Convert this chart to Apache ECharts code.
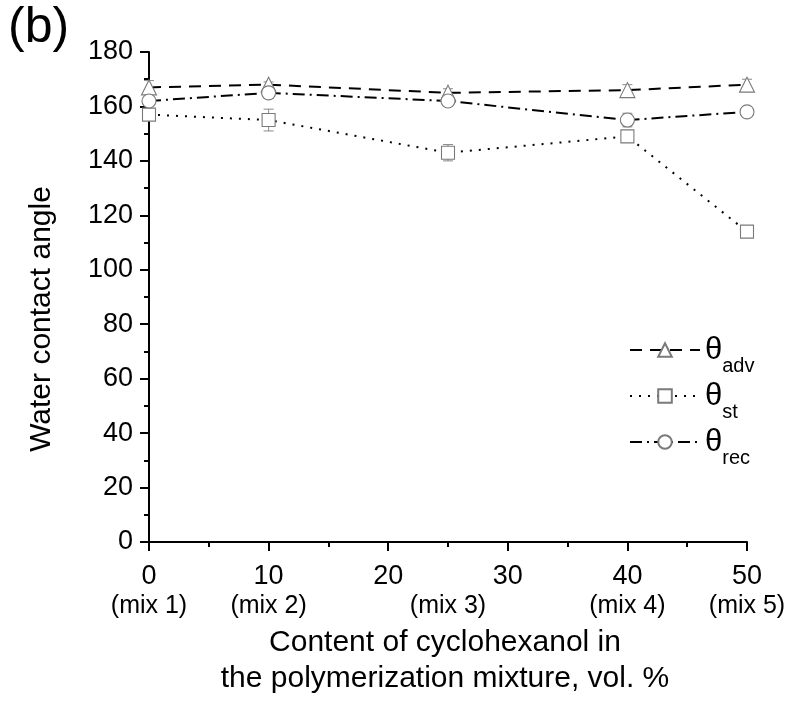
<!DOCTYPE html>
<html><head><meta charset="utf-8">
<script src="https://cdn.jsdelivr.net/npm/echarts@6/dist/echarts.min.js"></script>
<style>html,body{margin:0;padding:0;background:#fff}#c{width:800px;height:704px}</style>
</head><body><div id="c"></div>
<script>
const xValues = [0, 10, 25, 40, 50];
const mixLabels = ['(mix 1)', '(mix 2)', '(mix 3)', '(mix 4)', '(mix 5)'];
const advValues = [167, 168, 165, 166, 168];
const advErr = [2.5, 1, 1.5, 2, 2];
const stValues = [157, 155, 143, 149, 114];
const stErr = [2, 4, 3, 2, 1.5];
const recValues = [162, 165, 162, 155, 158];
const recErr = [1.5, 2, 2, 2.5, 1.5];
const yTicks = [0, 20, 40, 60, 80, 100, 120, 140, 160, 180];

const FONT = "'Liberation Sans', Arial, sans-serif";
const pts = (vals) => xValues.map((x, i) => [x, vals[i]]);
const errPts = (vals, errs) => xValues.map((x, i) => [x, vals[i], errs[i]]);

function errorSeries(vals, errs) {
  return {
    type: 'custom', xAxisIndex: 0, yAxisIndex: 0, z: 1, silent: true,
    data: errPts(vals, errs),
    renderItem: function (params, api) {
      const x = api.value(0), y = api.value(1), e = api.value(2);
      const hi = api.coord([x, y + e]);
      const lo = api.coord([x, y - e]);
      const w = 5;
      const st = { stroke: '#8a8a8a', lineWidth: 1 };
      return {
        type: 'group', children: [
          { type: 'line', shape: { x1: hi[0], y1: hi[1], x2: lo[0], y2: lo[1] }, style: st },
          { type: 'line', shape: { x1: hi[0] - w, y1: hi[1], x2: hi[0] + w, y2: hi[1] }, style: st },
          { type: 'line', shape: { x1: lo[0] - w, y1: lo[1], x2: lo[0] + w, y2: lo[1] }, style: st }
        ]
      };
    }
  };
}

function lineSeries(name, vals, symbol, size, dash) {
  return {
    name: name, type: 'line', xAxisIndex: 0, yAxisIndex: 0, z: 3,
    data: pts(vals), symbol: symbol, symbolSize: size, showAllSymbol: true,
    itemStyle: { color: '#ffffff', borderColor: '#7a7a7a', borderWidth: 1.1 },
    lineStyle: { color: '#000', width: 2, type: dash },
    emphasis: { disabled: true }
  };
}

const chart = echarts.init(document.getElementById('c'), null, { renderer: 'canvas' });
chart.setOption({
  animation: false,
  backgroundColor: '#fff',
  textStyle: { fontFamily: FONT, color: '#000' },
  grid: { left: 149, right: 53, top: 52, bottom: 162, containLabel: false },
  title: [
    { text: '(b)', left: 3, top: -2, textStyle: { fontFamily: FONT, fontSize: 50, fontWeight: 'normal', color: '#000' } },
    { text: 'Content of cyclohexanol in\nthe polymerization mixture, vol. %', left: 440, top: 620, textAlign: 'center',
      textStyle: { fontFamily: FONT, fontSize: 30, fontWeight: 'normal', color: '#000', lineHeight: 36, align: 'center' } }
  ],
  legend: {
    orient: 'vertical', left: 624, top: 330, itemWidth: 70, itemHeight: 17, itemGap: 5,
    data: ['adv', 'st', 'rec'],
    selectedMode: false,
    formatter: function (n) { return '{t|θ}{s|' + n + '}'; },
    textStyle: {
      fontFamily: FONT, color: '#000', padding: [0, 0, 0, 0],
      rich: {
        t: { fontFamily: FONT, fontSize: 31, verticalAlign: 'bottom', lineHeight: 32 },
        s: { fontFamily: FONT, fontSize: 20, verticalAlign: 'bottom', padding: [0, 0, -10, 0] }
      }
    }
  },
  xAxis: [
    {
      type: 'value', min: 0, max: 50, interval: 10, position: 'bottom',
      axisLine: { show: true, onZero: false, lineStyle: { color: '#000', width: 2 } },
      axisTick: { show: true, inside: false, length: 9, lineStyle: { color: '#000', width: 2 } },
      minorTick: { show: true, splitNumber: 2, length: 5, lineStyle: { color: '#000', width: 2 } },
      splitLine: { show: false },
      axisLabel: { fontFamily: FONT, fontSize: 27, color: '#000', margin: 21 }
    },
    {
      type: 'value', min: 0, max: 50, position: 'bottom', offset: 40,
      axisLine: { show: false }, axisTick: { show: false }, splitLine: { show: false },
      axisLabel: {
        fontFamily: FONT, fontSize: 25, color: '#000', margin: 12,
        customValues: xValues,
        formatter: function (v) { const i = xValues.indexOf(v); return i >= 0 ? mixLabels[i] : ''; }
      }
    }
  ],
  yAxis: {
    type: 'value', min: 0, max: 180, interval: 20,
    name: 'Water contact angle', nameLocation: 'middle', nameGap: 92,
    nameTextStyle: { fontFamily: FONT, fontSize: 30, color: '#000', padding: [0, 0, 0, -44] },
    axisLine: { show: true, lineStyle: { color: '#000', width: 2 } },
    axisTick: { show: true, inside: false, length: 9, lineStyle: { color: '#000', width: 2 } },
    minorTick: { show: true, splitNumber: 2, length: 5, lineStyle: { color: '#000', width: 2 } },
    splitLine: { show: false },
    axisLabel: { fontFamily: FONT, fontSize: 27, color: '#000', margin: 16,
      formatter: function (v) { return yTicks.indexOf(v) >= 0 ? String(v) : ''; } }
  },
  series: [
    errorSeries(advValues, advErr),
    errorSeries(stValues, stErr),
    errorSeries(recValues, recErr),
    lineSeries('adv', advValues, 'triangle', 15, [12, 8]),
    lineSeries('st', stValues, 'rect', 13, [2, 7]),
    lineSeries('rec', recValues, 'circle', 14, [12, 5, 2, 5])
  ]
});
</script></body></html>
